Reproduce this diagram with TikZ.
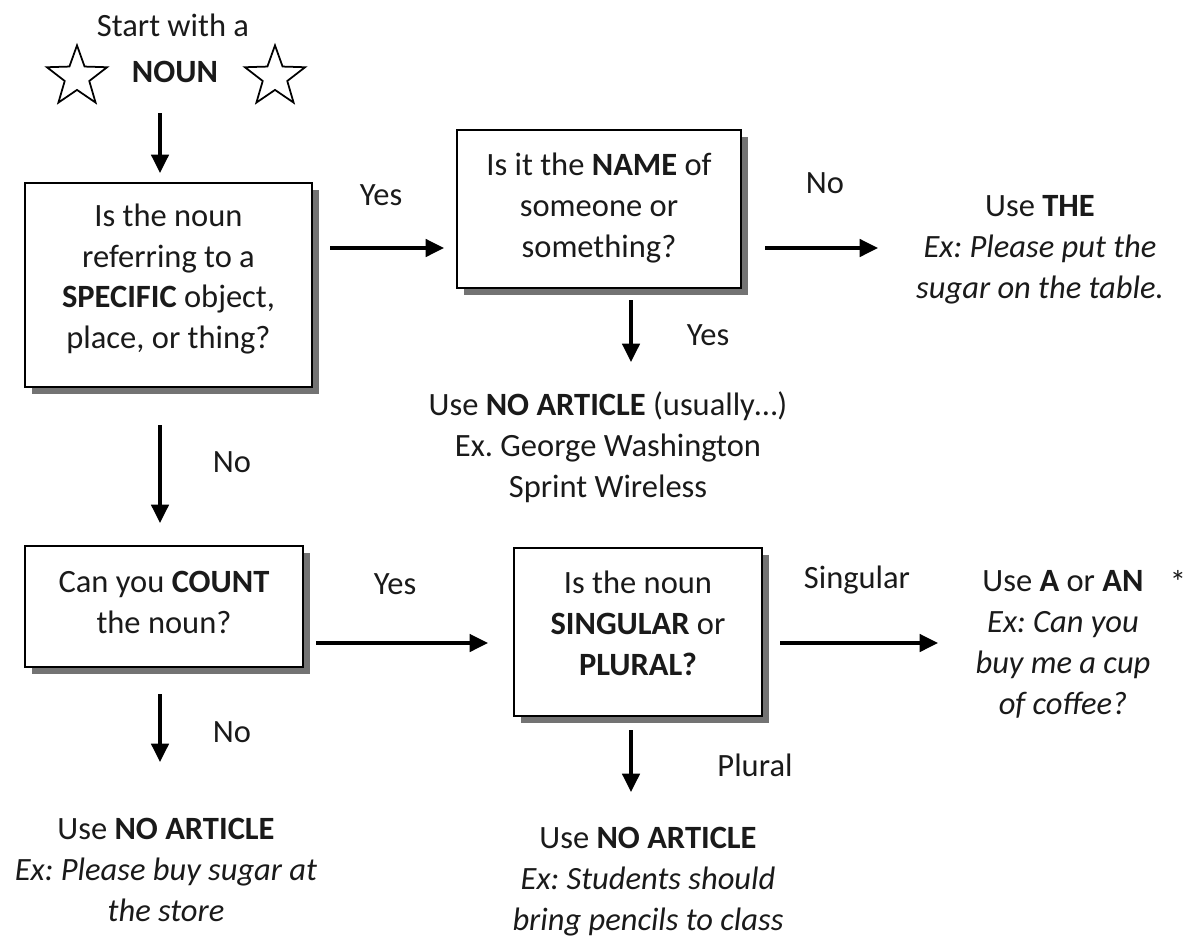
\documentclass[tikz,border=0pt]{standalone}
\usepackage{fontspec}
\setmainfont{Carlito}
\usetikzlibrary{arrows.meta,shapes.geometric,shadows}
\definecolor{ink}{HTML}{1A1A1A}
\frenchspacing
\tikzset{
  txt/.style={text=ink, align=center, font=\fontsize{18.5}{23.3}\selectfont, inner sep=0pt},
  lbl/.style={text=ink, font=\fontsize{18.5}{23.3}\selectfont, inner sep=0pt},
  box/.style={draw=black, line width=1.3pt, fill=white, inner sep=0pt,
    drop shadow={shadow xshift=4pt, shadow yshift=-4pt, fill=black!55, opacity=1}},
  arr/.style={-{Triangle[length=10.5pt,width=10pt]}, line width=1.8pt, draw=black},
  startstar/.style={star, star points=5, star point ratio=2.45, draw=black, line width=1pt, minimum size=36pt, inner sep=0pt}
}
\begin{document}
\begin{tikzpicture}[x=0.02cm, y=-0.02cm]
\useasboundingbox (0,0) rectangle (1190,940);
% start
\node[txt] (start) at (173,25) {Start with a};
\node[txt] (noun) at (175,72) {\textbf{NOUN}};
\node[startstar] (starL) at (77,77) {};
\node[startstar] (starR) at (275,77) {};
% boxes
\node[box, minimum width=5.74cm, minimum height=4.08cm] (b1) at (168.5,285) {};
\node[txt] (b1t) at (168.5,279) {Is the noun\\ referring to a\\ \textbf{SPECIFIC} object,\\ place, or thing?};
\node[box, minimum width=5.68cm, minimum height=3.16cm] (b2) at (599,209) {};
\node[txt] (b2t) at (599,208) {Is it the \textbf{NAME} of\\ someone or\\ something?};
\node[box, minimum width=5.56cm, minimum height=2.42cm] (b3) at (164,606.5) {};
\node[txt] (b3t) at (164,602) {Can you \textbf{COUNT}\\ the noun?};
\node[box, minimum width=4.96cm, minimum height=3.36cm] (b4) at (638,632) {};
\node[txt] (b4t) at (638,623) {Is the noun\\ \textbf{SINGULAR} or\\ \textbf{PLURAL?}};
% outcomes
\node[txt] (the) at (1040,250) {Use \textbf{THE}\\ \textit{Ex: Please put the}\\ \textit{sugar on the table.}};
\node[txt] (noart1) at (608,447) {Use \textbf{NO ARTICLE} (usually…)\\ Ex. George Washington\\ Sprint Wireless};
\node[txt] (aan) at (1063,644) {Use \textbf{A} or \textbf{AN}\\ \textit{Ex: Can you}\\ \textit{buy me a cup}\\ \textit{of coffee?}};
\node[lbl] (ast) at (1178,582) {*};
\node[txt] (noart2) at (648,882) {Use \textbf{NO ARTICLE}\\ \textit{Ex: Students should}\\ \textit{bring pencils to class}};
\node[txt] (noart3) at (166,870) {Use \textbf{NO ARTICLE}\\ \textit{Ex: Please buy sugar at}\\ \textit{the store}};
% coordinates for arrows
\coordinate (a0s) at (160,113); \coordinate (a0e) at (160,173);
\coordinate (a1s) at (330,248); \coordinate (a1e) at (444,248);
\coordinate (a2s) at (765,248); \coordinate (a2e) at (878,248);
\coordinate (a3s) at (631,300); \coordinate (a3e) at (631,362);
\coordinate (a4s) at (160,425); \coordinate (a4e) at (160,523);
\coordinate (a5s) at (316,643); \coordinate (a5e) at (488,643);
\coordinate (a6s) at (780,643); \coordinate (a6e) at (938,643);
\coordinate (a7s) at (631,730); \coordinate (a7e) at (631,792);
\coordinate (a8s) at (160,694); \coordinate (a8e) at (160,762);
\draw[arr] (a0s) -- (a0e);
\draw[arr] (a1s) -- (a1e);
\draw[arr] (a2s) -- (a2e);
\draw[arr] (a3s) -- (a3e);
\draw[arr] (a4s) -- (a4e);
\draw[arr] (a5s) -- (a5e);
\draw[arr] (a6s) -- (a6e);
\draw[arr] (a7s) -- (a7e);
\draw[arr] (a8s) -- (a8e);
% labels
\node[lbl] (l1) at (381,195) {Yes};
\node[lbl] (l2) at (825,183) {No};
\node[lbl] (l3) at (708,335) {Yes};
\node[lbl] (l4) at (232,462) {No};
\node[lbl] (l5) at (395,584) {Yes};
\node[lbl] (l6) at (857,580) {Singular};
\node[lbl] (l7) at (755,765) {Plural};
\node[lbl] (l8) at (232,732) {No};
\end{tikzpicture}
\end{document}
